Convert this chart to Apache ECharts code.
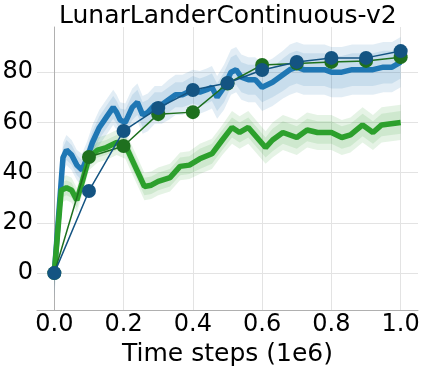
<!DOCTYPE html>
<html>
<head>
<meta charset="utf-8">
<script src="https://cdn.jsdelivr.net/npm/echarts@6/dist/echarts.min.js"></script>
<style>html,body{margin:0;padding:0;background:#fff}#chart{width:423px;height:366px}</style>
</head>
<body>
<div id="chart"></div>
<script>
// ---- data ----
const xTicks = [0.0, 0.2, 0.4, 0.6, 0.8, 1.0];
const yTicks = [0, 20, 40, 60, 80];

const blueSteps = [0.000,0.025,0.035,0.05,0.065,0.08,0.095,0.11,0.13,0.15,0.17,0.18,0.19,0.205,0.225,0.24,0.255,0.27,0.29,0.31,0.33,0.35,0.37,0.40,0.42,0.44,0.455,0.47,0.49,0.51,0.525,0.54,0.56,0.58,0.60,0.615,0.63,0.66,0.68,0.70,0.72,0.75,0.78,0.80,0.83,0.86,0.89,0.92,0.95,0.975,1.0];
const blueMean  = [0,46,49,47,43,41,46,52,58,62,66,64,61,60,66,68,63,64,67,67,69,71,71,73,72,73,74,70,74,80,81,78,77,77,74,75,76,79,81,82,81,81,81,80,80,81,81,81,82,82,84];
const blueInner = [6,4,4,4,4,4,4,4.5,4.5,4.5,4.5,4.5,4.5,5,5,5,5,5,5,5,5,5,5,5.5,5.5,5.5,5.5,5.5,6,6,6,6,6,6,6,6,6,6.5,6.5,6.5,6.5,6.5,6.5,6.5,6.5,6.5,6.5,6.5,6.5,6.5,6.5];
const blueOuter = [10,6,6,6,6,6.5,6.5,7,7,7,7,7,7,7.5,7.5,7.5,7.5,7.5,7.5,7.5,8,8,8,8,8.5,8.5,8.5,8.5,9,9,9,9,9,9,9.5,9.5,9.5,9.5,10,10,10,10,10,10,10,10,10,10,10,10,10];

const greenSteps = [0,0.02,0.035,0.05,0.065,0.08,0.10,0.125,0.15,0.18,0.205,0.225,0.245,0.26,0.28,0.30,0.334,0.363,0.39,0.42,0.455,0.485,0.513,0.535,0.56,0.585,0.61,0.63,0.66,0.68,0.70,0.73,0.76,0.80,0.83,0.855,0.89,0.92,0.945,1.0];
const greenMean  = [0,33,34,33,29,36,46,49,50,52,51,45,39,34.5,35,36.5,38,42.5,43,45.5,47.5,53,58,56,58,54,50,53,56,55,54,57,56,56,54,55,59,56,59,60];
const greenInner = [3,3,3,3,3,3,3,3,3,3,3.5,3.5,3.5,3.5,3.5,3.5,3.5,3.5,3.5,4,4,4,4,4,4,4,4,4.5,4.5,4.5,4.5,4.5,4.5,4.5,4.5,4.5,4.5,4.5,4.5,4.5];
const greenOuter = [5,5,5,5,5,5,5,5,5,5,5.5,5.5,5.5,5.5,5.5,5.5,5.5,5.5,5.5,6,6,6,6.5,6.5,6.5,6.5,6.5,7,7,7,7,7,7,7,7,7,7,7,7,7];

const evalSteps = [0.0,0.1,0.2,0.3,0.4,0.5,0.6,0.7,0.8,0.9,1.0];
const evalBlue  = [0,32.7,56.6,65.7,72.9,75.7,80.9,84.1,85.7,85.7,88.4];
const evalGreen = [0,46.2,50.6,63.3,64.1,75.5,82.9,83.5,84.1,84.5,86.0];

// ---- helpers ----
const zip = (xs, ys) => xs.map((x, i) => [x, ys[i]]);
function band(xs, mean, half, color, z) {
  return {
    type: 'custom', silent: true, clip: true, z: z,
    data: [[xs[0], mean[0]]],
    renderItem: (params, api) => {
      const pts = [];
      for (let i = 0; i < xs.length; i++) pts.push(api.coord([xs[i], mean[i] + half[i]]));
      for (let i = xs.length - 1; i >= 0; i--) pts.push(api.coord([xs[i], mean[i] - half[i]]));
      return { type: 'polygon', shape: { points: pts }, style: { fill: color } };
    }
  };
}

const font = 'DejaVu Sans';
const chart = echarts.init(document.getElementById('chart'), null, { renderer: 'canvas' });
chart.setOption({
  animation: false,
  backgroundColor: '#fff',
  title: {
    text: 'LunarLanderContinuous-v2', left: 54, top: -1,
    textStyle: { fontFamily: font, fontSize: 25, fontWeight: 'normal', color: '#000' }
  },
  grid: { left: 37, right: 5, top: 27, bottom: 56, containLabel: false, outerBoundsMode: 'none' },
  xAxis: {
    type: 'value', min: -0.05, max: 1.05,
    name: 'Time steps (1e6)', nameLocation: 'middle', nameGap: 27,
    nameTextStyle: { fontFamily: font, fontSize: 25, color: '#000' },
    axisLine: { show: true, onZero: false, lineStyle: { color: '#b0b0b0', width: 1 } },
    axisTick: { show: false, customValues: xTicks },
    axisLabel: { customValues: xTicks, fontFamily: font, fontSize: 24, color: '#000', margin: 3,
      formatter: v => v.toFixed(1) },
    splitLine: { show: true, lineStyle: { color: '#e3e3e3', width: 1 } }
  },
  yAxis: {
    type: 'value', min: -14.7, max: 98,
    axisLine: { show: true, lineStyle: { color: '#b0b0b0', width: 1 } },
    axisTick: { show: false, customValues: yTicks },
    axisLabel: { customValues: yTicks, fontFamily: font, fontSize: 24, color: '#000', margin: 4 },
    splitLine: { show: true, lineStyle: { color: '#e3e3e3', width: 1 } }
  },
  series: [
    band(blueSteps, blueMean, blueOuter, 'rgba(31,119,180,0.13)', 1),
    band(blueSteps, blueMean, blueInner, 'rgba(31,119,180,0.13)', 1),
    band(greenSteps, greenMean, greenOuter, 'rgba(44,160,44,0.12)', 1),
    band(greenSteps, greenMean, greenInner, 'rgba(44,160,44,0.12)', 1),
    { type: 'line', data: zip(blueSteps, blueMean), showSymbol: false, symbol: 'none', z: 2,
      lineStyle: { color: '#1f77b4', width: 5.5 } },
    { type: 'line', data: zip(greenSteps, greenMean), showSymbol: false, symbol: 'none', z: 2,
      lineStyle: { color: '#2ca02c', width: 5.5 } },
    { type: 'line', data: zip(evalSteps, evalGreen), symbol: 'circle', symbolSize: 14, z: 3,
      itemStyle: { color: '#1e701e' }, lineStyle: { color: '#1e701e', width: 1.5 } },
    { type: 'line', data: zip(evalSteps, evalBlue), symbol: 'circle', symbolSize: 14, z: 4,
      itemStyle: { color: '#145482' }, lineStyle: { color: '#145482', width: 1.5 } }
  ]
});
</script>
</body>
</html>
